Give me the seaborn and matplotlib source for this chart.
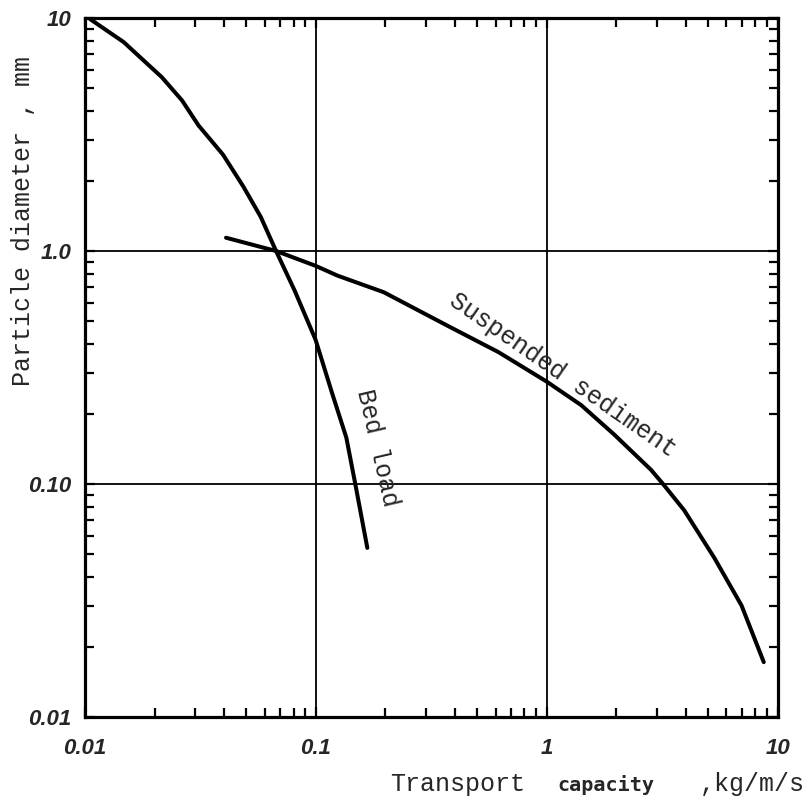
import numpy as np
import pandas as pd
import matplotlib
matplotlib.use("Agg")
import matplotlib.pyplot as plt
from matplotlib.ticker import LogLocator, NullFormatter
import seaborn as sns

# Bed load transport capacity curve (kg/m/s vs mm)
bed_capacity = [0.0105, 0.0147, 0.0215, 0.0263, 0.0310, 0.0396, 0.0485, 0.0577,
                0.0672, 0.0808, 0.0996, 0.117, 0.1355, 0.149, 0.167]
bed_diameter = [9.9, 7.88, 5.57, 4.43, 3.46, 2.59, 1.89, 1.40,
                1.0, 0.678, 0.417, 0.249, 0.158, 0.097, 0.0532]

# Suspended sediment transport capacity curve
susp_capacity = [0.0408, 0.0672, 0.0996, 0.124, 0.197, 0.379, 0.618, 1.0,
                 1.41, 1.96, 2.83, 3.19, 3.94, 5.32, 6.98, 8.71]
susp_diameter = [1.14, 1.0, 0.864, 0.784, 0.665, 0.473, 0.368, 0.275,
                 0.218, 0.163, 0.115, 0.1, 0.0771, 0.0482, 0.0301, 0.0172]

x_ticks = [0.01, 0.1, 1, 10]
x_ticklabels = ["0.01", "0.1", "1", "10"]
y_ticks = [0.01, 0.1, 1, 10]
y_ticklabels = ["0.01", "0.10", "1.0", "10"]

df = pd.concat([
    pd.DataFrame({"capacity": bed_capacity, "diameter": bed_diameter, "curve": "Bed load"}),
    pd.DataFrame({"capacity": susp_capacity, "diameter": susp_diameter, "curve": "Suspended sediment"}),
], ignore_index=True)

sns.set_style("ticks")
plt.rcParams["font.family"] = ["Liberation Mono", "DejaVu Sans Mono"]

fig = plt.figure(figsize=(8.1, 7.99), dpi=100)
ax = fig.add_axes([0.105, 0.1026, 0.855, 0.8749])

sns.lineplot(data=df, x="capacity", y="diameter", hue="curve",
             palette=["black", "black"], estimator=None, sort=False,
             linewidth=2.9, legend=False, ax=ax)

ax.set_xscale("log")
ax.set_yscale("log")
ax.set_xlim(0.01, 10)
ax.set_ylim(0.01, 10)

ax.grid(True, which="major", color="black", linewidth=1.3)
ax.set_axisbelow(True)

for s in ax.spines.values():
    s.set_visible(True)
    s.set_linewidth(2.3)
    s.set_color("black")

tick_font = dict(family="Liberation Sans", weight="bold", style="italic", size=16)
ax.set_xticks(x_ticks)
ax.set_xticklabels(x_ticklabels, fontdict=tick_font)
ax.set_yticks(y_ticks)
ax.set_yticklabels(y_ticklabels, fontdict=tick_font)

ax.xaxis.set_minor_locator(LogLocator(base=10, subs=np.arange(2, 10)))
ax.yaxis.set_minor_locator(LogLocator(base=10, subs=np.arange(2, 10)))
ax.xaxis.set_minor_formatter(NullFormatter())
ax.yaxis.set_minor_formatter(NullFormatter())

ax.tick_params(which="both", direction="in", top=True, right=True,
               color="black", width=1.6)
ax.tick_params(which="major", length=7)
ax.tick_params(which="minor", length=6.5)
ax.tick_params(axis="x", which="major", pad=15)
ax.tick_params(axis="y", which="major", pad=10)

ax.set_xlabel("")
ax.set_ylabel("")

# curve labels
ax.text(0.184, 0.143, "Bed load", rotation=-77, rotation_mode="anchor",
        ha="center", va="center", fontsize=18, family="Liberation Mono")
ax.text(1.17, 0.294, "Suspended sediment", rotation=-34.7, rotation_mode="anchor",
        ha="center", va="center", fontsize=18, family="Liberation Mono")

# axis titles
fig.text(0.028, 0.724, "Particle diameter , mm", rotation=90,
         ha="center", va="center", fontsize=18, family="Liberation Mono")
base_y = 1 - 791 / 799
fig.text(390 / 810, base_y, "Transport", ha="left", va="baseline",
         fontsize=18, family="Liberation Mono")
fig.text(557 / 810, base_y, "capacity", ha="left", va="baseline",
         fontsize=14.5, family="DejaVu Sans Mono", weight="bold")
fig.text(700 / 810, base_y, ",kg/m/s", ha="left", va="baseline",
         fontsize=18, family="Liberation Mono")

fig.savefig("out.png", dpi=100, facecolor="white")
